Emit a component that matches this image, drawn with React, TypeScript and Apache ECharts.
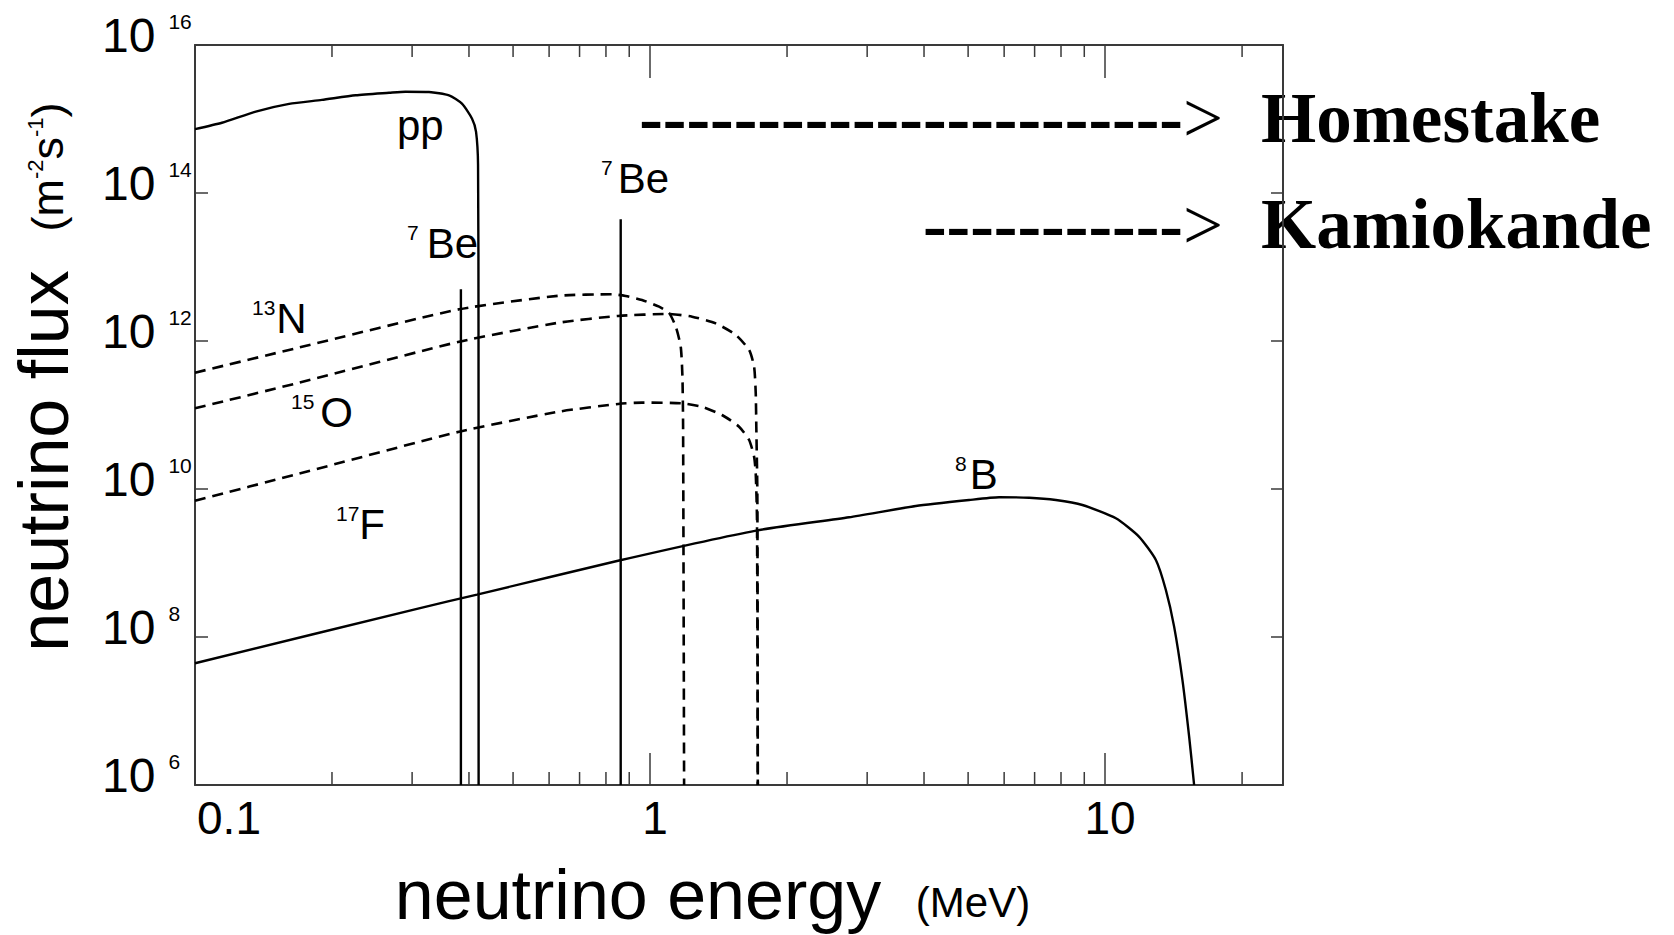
import React, { useEffect, useRef } from 'react';
import * as echarts from 'echarts';

// ---- data (energy in MeV, flux in m^-2 s^-1) ----
const xTickValues = [0.1, 1, 10];
const xTickLabels = ['0.1', '1', '10'];
const xMinorTicks = [0.2, 0.3, 0.4, 0.5, 0.6, 0.7, 0.8, 0.9, 2, 3, 4, 5, 6, 7, 8, 9, 20];

const ppEnergy = [0.1, 0.1146, 0.136, 0.161, 0.19, 0.2255, 0.267, 0.29, 0.3268, 0.3616, 0.386, 0.4063, 0.4146, 0.4188, 0.4198, 0.42];
const ppFlux = [7.3e14, 8.9e14, 1.26e15, 1.6e15, 1.81e15, 2.09e15, 2.26e15, 2.34e15, 2.32e15, 2.09e15, 1.61e15, 1.01e15, 6.7e14, 2.4e14, 1e12, 1e6];

const n13Energy = [0.1, 0.1693, 0.3805, 0.631, 0.825, 0.884, 0.96, 1.047, 1.101, 1.139, 1.168, 1.178, 1.182, 1.188];
const n13Flux = [3.73e11, 8.17e11, 2.68e12, 4.09e12, 4.28e12, 4.06e12, 3.58e12, 2.91e12, 2.39e12, 1.56e12, 8.37e11, 3.3e11, 6.95e10, 1e6];

const o15Energy = [0.1, 0.1693, 0.3805, 0.631, 0.851, 1.101, 1.237, 1.394, 1.543, 1.651, 1.693, 1.707, 1.712, 1.721, 1.725];
const o15Flux = [1.23e11, 2.73e11, 9.77e11, 1.77e12, 2.18e12, 2.32e12, 2.13e12, 1.73e12, 1.21e12, 7.55e11, 4.5e11, 1.98e11, 6.95e10, 8.8e9, 1e6];

const f17Energy = [0.1, 0.1693, 0.3805, 0.631, 0.851, 0.96, 1.176, 1.301, 1.439, 1.569, 1.651, 1.693, 1.707, 1.718, 1.725];
const f17Flux = [6.95e9, 1.61e10, 5.94e10, 1.11e11, 1.41e11, 1.47e11, 1.44e11, 1.29e11, 1.0e11, 6.95e10, 4.59e10, 2.73e10, 1.63e10, 3.81e9, 1e6];

const b8Energy = [0.1, 0.3107, 0.4166, 0.855, 1.71, 2.737, 3.837, 5.024, 5.848, 6.81, 7.794, 8.916, 10.56, 11.88, 12.93, 13.6, 14.18, 14.79, 15.3, 15.69];
const b8Flux = [4.42e7, 2.44e8, 3.74e8, 1.08e9, 2.74e9, 4.15e9, 5.89e9, 7.1e9, 7.73e9, 7.62e9, 7.1e9, 6.08e9, 4.02e9, 2.26e9, 1.1e9, 4.32e8, 1.38e8, 2.62e7, 4.5e6, 1e6];

const be7Energy = [0.384, 0.862];
const be7Flux = [5.0e12, 4.41e13];

const FLUX_MIN = 1e6;
const FLUX_MAX = 1e16;
const E_MIN = 0.1;
const E_MAX = 24.6;

// ---- annotation texts ----
const isoLabels = [
  { sup: '7', main: 'Be', x: 407, y: 243, gap: 8 },
  { sup: '7', main: 'Be', x: 601, y: 178, gap: 5 },
  { sup: '13', main: 'N', x: 252, y: 318, gap: 1 },
  { sup: '15', main: 'O', x: 291, y: 412, gap: 6 },
  { sup: '17', main: 'F', x: 336, y: 524, gap: 0 },
  { sup: '8', main: 'B', x: 955, y: 474, gap: 3 },
];

const F = 'Liberation Sans';
const SERIF = 'Liberation Serif';

const zip = (xs: number[], ys: number[]) => xs.map((x, i) => [x, ys[i]]);

export default function App() {
  const ref = useRef<HTMLDivElement>(null);

  useEffect(() => {
    if (!ref.current) return;
    const chart = echarts.init(ref.current, undefined, { renderer: 'svg' });

    const axisColor = '#3a3a3a';
    const solid = { color: '#000', width: 2.4 };
    const dashed = { color: '#000', width: 2.6, type: [11, 7] as number[] };

    const xLabelFormatter = (v: number) => {
      const idx = xTickValues.findIndex((t) => Math.abs(t - v) / t < 1e-6);
      if (idx < 0) return '';
      if (idx === 0) return `{l|${xTickLabels[idx]}}`;
      return `{n|${xTickLabels[idx]}}`;
    };

    const lineSeries = (data: number[][], style: any) => ({
      type: 'line',
      data,
      showSymbol: false,
      symbol: 'none',
      smooth: 0.2,
      lineStyle: style,
      silent: true,
      xAxisIndex: 0,
      yAxisIndex: 0,
    });

    const dashRich = {
      d: { fontFamily: SERIF, fontSize: 71, fontWeight: 'bold', fill: '#000', lineHeight: 30 },
      g: { fontFamily: SERIF, fontSize: 71, fontWeight: 'normal', fill: '#000', lineHeight: 30 },
    };

    const graphics: any[] = [
      {
        type: 'text', x: 397, y: 125,
        style: { text: 'pp', fontFamily: F, fontSize: 42, fill: '#000', align: 'left', verticalAlign: 'middle' },
      },
      ...isoLabels.map((l) => ({
        type: 'text', x: l.x, y: l.y,
        style: {
          text: `{s|${l.sup}}{m|${l.main}}`,
          rich: {
            s: { fontFamily: F, fontSize: 21, fill: '#000', verticalAlign: 'top', padding: [0, l.gap, 0, 0] },
            m: { fontFamily: F, fontSize: 42, fill: '#000' },
          },
          align: 'left', verticalAlign: 'middle', fill: '#000',
        },
      })),
      {
        type: 'text', x: 44, y: 461, rotation: Math.PI / 2,
        style: { text: 'neutrino flux', fontFamily: F, fontSize: 70, fill: '#000', align: 'center', verticalAlign: 'middle' },
      },
      {
        type: 'text', x: 47, y: 167, rotation: Math.PI / 2,
        style: {
          text: '{p|(m}{s|-2}{p|s}{s|-1}{p|)}',
          rich: {
            p: { fontFamily: F, fontSize: 45, fill: '#000' },
            s: { fontFamily: F, fontSize: 22, fill: '#000', verticalAlign: 'top' },
          },
          align: 'center', verticalAlign: 'middle', fill: '#000',
        },
      },
      {
        type: 'text', x: 638, y: 895,
        style: { text: 'neutrino energy', fontFamily: F, fontSize: 70, fill: '#000', align: 'center', verticalAlign: 'middle' },
      },
      {
        type: 'text', x: 973, y: 902,
        style: { text: '(MeV)', fontFamily: F, fontSize: 42, fill: '#000', align: 'center', verticalAlign: 'middle' },
      },
      {
        type: 'text', x: 1223, y: 118,
        style: {
          text: `{d|${'-'.repeat(23)}}{g|>}`,
          rich: dashRich, lineHeight: 30,
          align: 'right', verticalAlign: 'middle', fill: '#000',
        },
      },
      {
        type: 'text', x: 1261, y: 118,
        style: { text: 'Homestake', fontFamily: SERIF, fontSize: 71, fontWeight: 'bold', fill: '#000', align: 'left', verticalAlign: 'middle', lineHeight: 60 },
      },
      {
        type: 'text', x: 1223, y: 225,
        style: {
          text: `{d|${'-'.repeat(11)}}{g|>}`,
          rich: dashRich, lineHeight: 30,
          align: 'right', verticalAlign: 'middle', fill: '#000',
        },
      },
      {
        type: 'text', x: 1261, y: 224,
        style: { text: 'Kamiokande', fontFamily: SERIF, fontSize: 71, fontWeight: 'bold', fill: '#000', align: 'left', verticalAlign: 'middle', lineHeight: 60 },
      },
    ];

    const option: any = {
      animation: false,
      backgroundColor: '#fff',
      textStyle: { fontFamily: F },
      grid: { left: 195, right: 391, top: 45, bottom: 150, containLabel: false, outerBoundsMode: 'none' },
      xAxis: [
        {
          type: 'log', logBase: 10, min: E_MIN, max: E_MAX, position: 'bottom',
          axisLine: { show: true, onZero: false, lineStyle: { color: axisColor, width: 2 } },
          axisTick: { show: true, inside: true, length: 32, lineStyle: { color: axisColor, width: 1.5 } },
          axisLabel: {
            show: true, margin: 10, color: '#000', fontSize: 46, fontFamily: F,
            showMaxLabel: false, formatter: xLabelFormatter,
            rich: {
              l: { fontSize: 46, fontFamily: F, color: '#000', padding: [0, 0, 0, 68] },
              n: { fontSize: 46, fontFamily: F, color: '#000', padding: [0, 0, 0, 10] },
            },
          },
          splitLine: { show: false }, minorTick: { show: false }, minorSplitLine: { show: false },
        },
        {
          type: 'log', logBase: 10, min: E_MIN, max: E_MAX, position: 'top',
          axisLine: { show: true, onZero: false, lineStyle: { color: axisColor, width: 2 } },
          axisTick: { show: true, inside: true, length: 33, lineStyle: { color: axisColor, width: 1.5 } },
          axisLabel: { show: false },
          splitLine: { show: false },
        },
      ],
      yAxis: [
        {
          type: 'log', logBase: 100, min: FLUX_MIN, max: FLUX_MAX, position: 'left',
          axisLine: { show: true, onZero: false, lineStyle: { color: axisColor, width: 2 } },
          axisTick: { show: true, inside: true, length: 13, lineStyle: { color: axisColor, width: 1.5 } },
          axisLabel: {
            show: true, align: 'left', margin: 93, padding: [0, 0, 20, 0],
            formatter: (v: number) => `{b|10}{s|${Math.round(Math.log10(v))}}`,
            rich: {
              b: { fontSize: 48, fontFamily: F, color: '#000' },
              s: { fontSize: 21, fontFamily: F, color: '#000', verticalAlign: 'top', padding: [0, 0, 0, 13] },
            },
          },
          splitLine: { show: false },
        },
        {
          type: 'log', logBase: 100, min: FLUX_MIN, max: FLUX_MAX, position: 'right',
          axisLine: { show: true, onZero: false, lineStyle: { color: axisColor, width: 2 } },
          axisTick: { show: true, inside: true, length: 12, lineStyle: { color: axisColor, width: 1.5 } },
          axisLabel: { show: false },
          splitLine: { show: false },
        },
      ],
      series: [
        lineSeries(zip(ppEnergy, ppFlux), solid),
        lineSeries(zip(b8Energy, b8Flux), solid),
        lineSeries(zip(n13Energy, n13Flux), dashed),
        lineSeries(zip(o15Energy, o15Flux), dashed),
        lineSeries(zip(f17Energy, f17Flux), dashed),
        ...be7Energy.map((e, i) => ({
          type: 'line',
          data: [[e, FLUX_MIN], [e, be7Flux[i]]],
          showSymbol: false, symbol: 'none',
          lineStyle: solid, silent: true,
        })),
        {
          type: 'custom',
          xAxisIndex: 0, yAxisIndex: 0,
          silent: true, clip: false,
          encode: { x: 0, y: 1 },
          data: xMinorTicks.map((v) => [v, FLUX_MIN]),
          renderItem: (params: any, api: any) => {
            const v = api.value(0);
            const b = api.coord([v, FLUX_MIN]);
            const t = api.coord([v, FLUX_MAX]);
            const st = { stroke: axisColor, lineWidth: 1.5 };
            return {
              type: 'group',
              children: [
                { type: 'line', shape: { x1: b[0], y1: b[1], x2: b[0], y2: b[1] - 13 }, style: st },
                { type: 'line', shape: { x1: t[0], y1: t[1], x2: t[0], y2: t[1] + 12 }, style: st },
              ],
            };
          },
        },
      ],
      graphic: graphics,
    };

    chart.setOption(option);
    return () => chart.dispose();
  }, []);

  return (
    <div
      ref={ref}
      style={{ position: 'fixed', left: 0, top: 0, width: 1674, height: 935, background: '#fff' }}
    />
  );
}
